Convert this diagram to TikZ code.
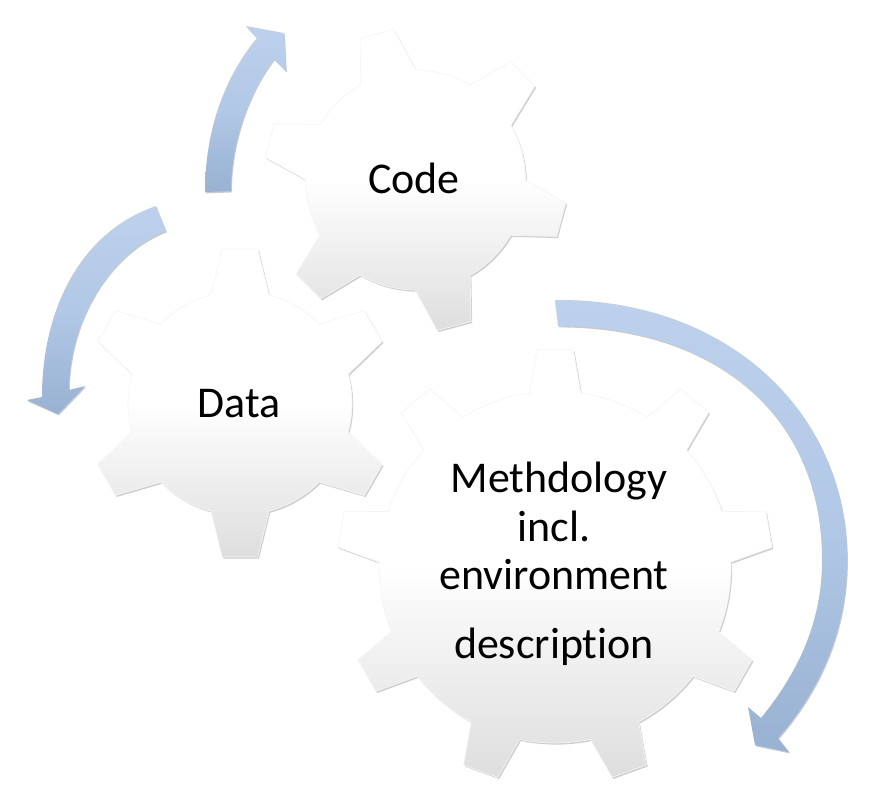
\documentclass[tikz,border=0pt]{standalone}
\usepackage{fontspec}
\setmainfont[Ligatures=NoCommon]{Carlito}
\usetikzlibrary{shadows}
\definecolor{arrowtop}{HTML}{BDD1EC}
\definecolor{arrowmid}{HTML}{B1C8E6}
\definecolor{arrowbot}{HTML}{99B1D2}
\tikzset{
  gear_face/.style={top color=white,bottom color=black!13,middle color=white,draw=black!4,line width=.4pt,
      drop shadow={shadow xshift=.7pt,shadow yshift=-.9pt,opacity=.28,fill=black!70}},
  turn_arrow/.style={top color=arrowtop,bottom color=arrowbot,middle color=arrowmid,
      drop shadow={shadow xshift=.5pt,shadow yshift=-.8pt,opacity=.3,fill=black!70}},
  gear_text/.style={font=\fontsize{25}{25}\selectfont,anchor=base,inner sep=0pt},
  % teeth / root radius / tip radius / half root angle / half tip angle / first tooth
  pics/gear/.style args={#1/#2/#3/#4/#5/#6}{
      code={
          \path[gear_face] ({#6-#4}:#2)
          \foreach [evaluate=\i as \a using #6+(\i-1)*360/#1] \i in {1,...,#1} {
            -- ({\a-#4}:#2) -- ({\a-#5}:#3) -- ({\a+#5}:#3) -- ({\a+#4}:#2)
            arc[start angle={\a+#4},end angle={\a+360/#1-#4},radius=#2]
          } -- cycle;
        }}
}

\begin{document}
\begin{tikzpicture}[x=0.02cm,y=-0.02cm]
        \useasboundingbox (0,0) rectangle (871,789);
        % the three gears
        \path (415.5,180) pic {gear={6/110/152/15/6.6/-104.8}};
        \path (240,403) pic {gear={6/112/155/15/6.6/-90}};
        \path (555,567) pic {gear={9/176/218/8.4/4.8/-90}};
        % the turning arrows
        \path[turn_arrow] (205,192) .. controls (205,135) and (222,80) .. (257,38)
          -- (246,26) -- (284,33) -- (286,71) -- (274,59)
          .. controls (250,90) and (231,140) .. (231,191) -- cycle;
        \path[turn_arrow] (156,206) .. controls (80,232) and (42,310) .. (42,397)
          -- (27,400) -- (58,414) -- (85,386) -- (69,390)
          .. controls (69,320) and (110,252) .. (166,231) -- cycle;
        \path[turn_arrow] (555,300) .. controls (725,298) and (847,410) .. (847,560)
          .. controls (847,630) and (820,690) .. (778,738)
          -- (789,752) -- (755,745) -- (748,707) -- (761,718)
          .. controls (800,670) and (822,620) .. (822,560)
          .. controls (822,415) and (715,326) .. (558,326) -- cycle;
        % labels
        \node[gear_text] (code) at (414,193) {Code};
        \node[gear_text] (data) at (239,417) {Data};
        \node[gear_text] (meth) at (559,492) {Methdology};
        \node[gear_text] (incl) at (554,541) {incl.};
        \node[gear_text] (envi) at (554,589) {environment};
        \node[gear_text] (desc) at (554,658) {description};
      \end{tikzpicture}
\end{document}
